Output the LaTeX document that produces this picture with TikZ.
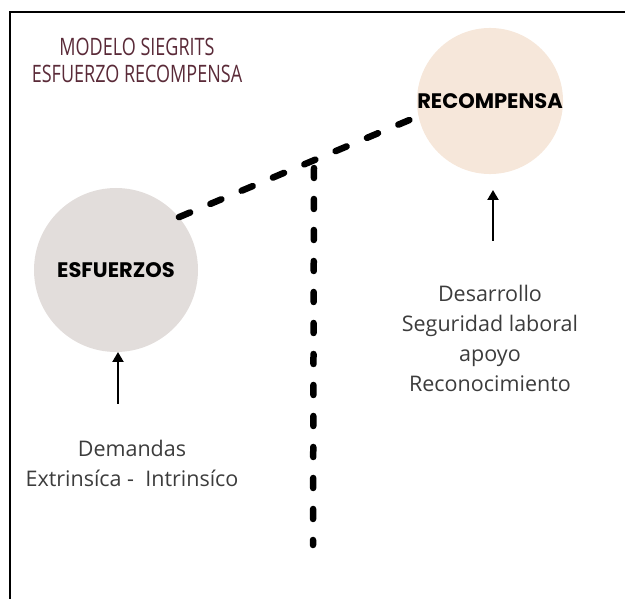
\documentclass[tikz,border=0pt]{standalone}
\usepackage{fontspec}
\setmainfont{Open Sans}
\newfontfamily\headfont{Poppins}
\newfontfamily\titlefont{Open Sans}[FakeStretch=0.75]
\usetikzlibrary{arrows.meta}
\definecolor{recfill}{HTML}{F6E7DA}
\definecolor{esffill}{HTML}{E2DDDB}
\definecolor{titlecol}{HTML}{5A2A38}
\definecolor{bodytext}{HTML}{3C3C3C}
\tikzset{
  blob/.style={circle, inner sep=0pt, font=\headfont\bfseries\fontsize{21}{24}\selectfont, text=black},
  bodylabel/.style={align=center, text=bodytext, font=\fontsize{21.5}{30}\selectfont},
  titlelabel/.style={align=center, text=titlecol, font=\titlefont\fontsize{24}{27}\selectfont},
  inkdash/.style={line width=6.5pt, line cap=round, dash pattern=on 12pt off 22pt},
  upArrow/.style={line width=2.2pt, -{Triangle[length=10pt,width=11pt]}}
}
\begin{document}
\begin{tikzpicture}[x=1pt,y=-1pt]
\useasboundingbox (0,0) rectangle (625,599);
\draw[line width=2.2pt] (10,599) -- (10,12) -- (625,12);
\node[titlelabel] (title) at (137,60) {MODELO SIEGRITS\\ESFUERZO RECOMPENSA};
\node[blob, fill=recfill, minimum size=126pt] (rec) at (490,101) {RECOMPENSA};
\node[blob, fill=esffill, minimum size=164pt] (esf) at (116,270) {ESFUERZOS};
\coordinate (vtop) at (314,168);
\coordinate (vbot) at (313,545);
\draw[inkdash] (esf.40) -- (rec.192);
\draw[inkdash, dash pattern=on 10pt off 21pt] (vtop) -- (vbot);
\coordinate (a1) at (118,404);
\coordinate (a2) at (493,241);
\draw[upArrow] (a1) -- (118,352);
\draw[upArrow] (a2) -- (493,190);
\node[bodylabel] (dem) at (132,463) {Demandas\\Extrinsíca -\ \ Intrinsíco};
\node[bodylabel] (des) at (490,338) {Desarrollo\\Seguridad laboral\\apoyo\\Reconocimiento};
\end{tikzpicture}
\end{document}
